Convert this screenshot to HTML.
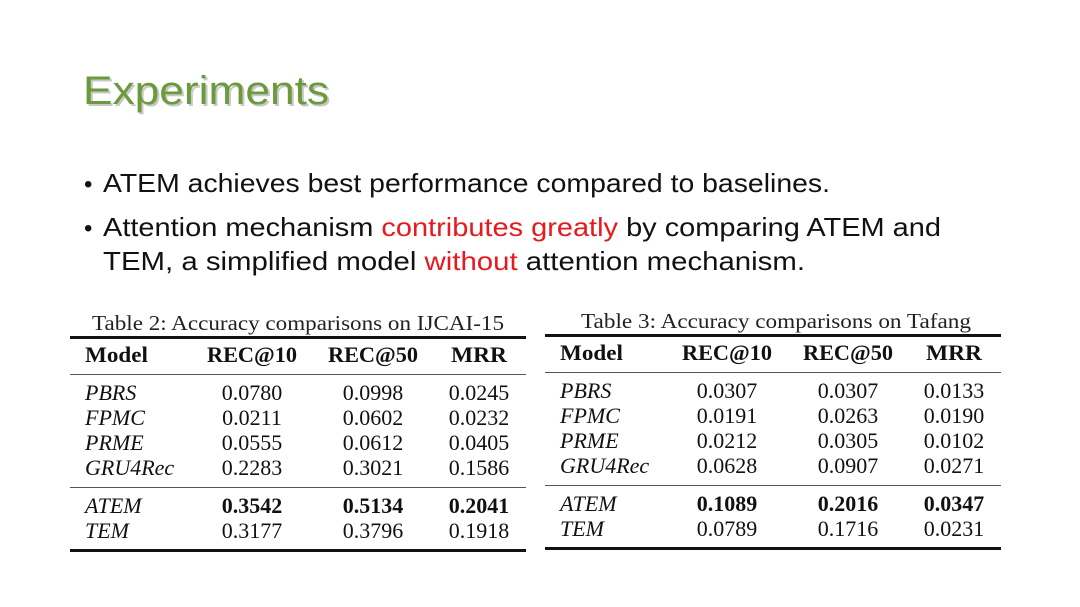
<!DOCTYPE html>
<html><head><meta charset="utf-8"><style>
html,body{margin:0;padding:0;background:#fff;}
svg{display:block}
.t{font-family:"Liberation Serif",serif;fill:#111;}
.s{font-family:"Liberation Sans",sans-serif;fill:#111;}
</style></head><body>
<svg width="1080" height="607" viewBox="0 0 1080 607" xmlns="http://www.w3.org/2000/svg">
<rect width="1080" height="607" fill="#fff"/>
<text x="85" y="106" class="s" font-size="40" style="fill:#c8c8c8" textLength="246" lengthAdjust="spacingAndGlyphs">Experiments</text>
<text x="83" y="104" class="s" font-size="40" style="fill:#6b9a3c" textLength="246" lengthAdjust="spacingAndGlyphs">Experiments</text>

<text x="84" y="192" class="s" font-size="24">•</text>
<text x="103" y="192" class="s" font-size="26" textLength="727" lengthAdjust="spacingAndGlyphs">ATEM achieves best performance compared to baselines.</text>
<text x="84" y="236" class="s" font-size="24">•</text>
<text x="103" y="236" class="s" font-size="26" textLength="838" lengthAdjust="spacingAndGlyphs">Attention mechanism <tspan style="fill:#e8191c">contributes greatly</tspan> by comparing ATEM and</text>
<text x="103" y="270" class="s" font-size="26" textLength="702" lengthAdjust="spacingAndGlyphs">TEM, a simplified model <tspan style="fill:#e8191c">without</tspan> attention mechanism.</text>

<g class="t">
<text x="298" y="330" text-anchor="middle" font-size="21" fill="#222" textLength="412" lengthAdjust="spacingAndGlyphs">Table 2: Accuracy comparisons on IJCAI-15</text>
<rect x="70" y="336" width="456" height="3" fill="#111"/>
<g font-weight="bold" font-size="22"><text x="85" y="362" textLength="63" lengthAdjust="spacingAndGlyphs">Model</text><text x="252" y="362" text-anchor="middle" textLength="90" lengthAdjust="spacingAndGlyphs">REC@10</text><text x="373" y="362" text-anchor="middle" textLength="90" lengthAdjust="spacingAndGlyphs">REC@50</text><text x="479" y="362" text-anchor="middle" textLength="56" lengthAdjust="spacingAndGlyphs">MRR</text></g>
<rect x="70" y="374" width="456" height="1" fill="#555"/>
<g font-size="22">
<g font-style="italic"><text x="85" y="400">PBRS</text><text x="85" y="425">FPMC</text><text x="85" y="450">PRME</text><text x="85" y="475">GRU4Rec</text><text x="85" y="513">ATEM</text><text x="85" y="538">TEM</text></g>
<g text-anchor="middle">
<text x="252" y="400">0.0780</text><text x="373" y="400">0.0998</text><text x="479" y="400">0.0245</text>
<text x="252" y="425">0.0211</text><text x="373" y="425">0.0602</text><text x="479" y="425">0.0232</text>
<text x="252" y="450">0.0555</text><text x="373" y="450">0.0612</text><text x="479" y="450">0.0405</text>
<text x="252" y="475">0.2283</text><text x="373" y="475">0.3021</text><text x="479" y="475">0.1586</text>
<g font-weight="bold"><text x="252" y="513">0.3542</text><text x="373" y="513">0.5134</text><text x="479" y="513">0.2041</text></g>
<text x="252" y="538">0.3177</text><text x="373" y="538">0.3796</text><text x="479" y="538">0.1918</text>
</g></g>
<rect x="70" y="487" width="456" height="1" fill="#555"/>
<rect x="70" y="549" width="456" height="3" fill="#111"/>
</g>

<g class="t" transform="translate(475,-2)">
<text x="301" y="330" text-anchor="middle" font-size="21" fill="#222" textLength="390" lengthAdjust="spacingAndGlyphs">Table 3: Accuracy comparisons on Tafang</text>
<rect x="70" y="336" width="456" height="3" fill="#111"/>
<g font-weight="bold" font-size="22"><text x="85" y="362" textLength="63" lengthAdjust="spacingAndGlyphs">Model</text><text x="252" y="362" text-anchor="middle" textLength="90" lengthAdjust="spacingAndGlyphs">REC@10</text><text x="373" y="362" text-anchor="middle" textLength="90" lengthAdjust="spacingAndGlyphs">REC@50</text><text x="479" y="362" text-anchor="middle" textLength="56" lengthAdjust="spacingAndGlyphs">MRR</text></g>
<rect x="70" y="374" width="456" height="1" fill="#555"/>
<g font-size="22">
<g font-style="italic"><text x="85" y="400">PBRS</text><text x="85" y="425">FPMC</text><text x="85" y="450">PRME</text><text x="85" y="475">GRU4Rec</text><text x="85" y="513">ATEM</text><text x="85" y="538">TEM</text></g>
<g text-anchor="middle">
<text x="252" y="400">0.0307</text><text x="373" y="400">0.0307</text><text x="479" y="400">0.0133</text>
<text x="252" y="425">0.0191</text><text x="373" y="425">0.0263</text><text x="479" y="425">0.0190</text>
<text x="252" y="450">0.0212</text><text x="373" y="450">0.0305</text><text x="479" y="450">0.0102</text>
<text x="252" y="475">0.0628</text><text x="373" y="475">0.0907</text><text x="479" y="475">0.0271</text>
<g font-weight="bold"><text x="252" y="513">0.1089</text><text x="373" y="513">0.2016</text><text x="479" y="513">0.0347</text></g>
<text x="252" y="538">0.0789</text><text x="373" y="538">0.1716</text><text x="479" y="538">0.0231</text>
</g></g>
<rect x="70" y="487" width="456" height="1" fill="#555"/>
<rect x="70" y="549" width="456" height="3" fill="#111"/>
</g>
</svg>
</body></html>
